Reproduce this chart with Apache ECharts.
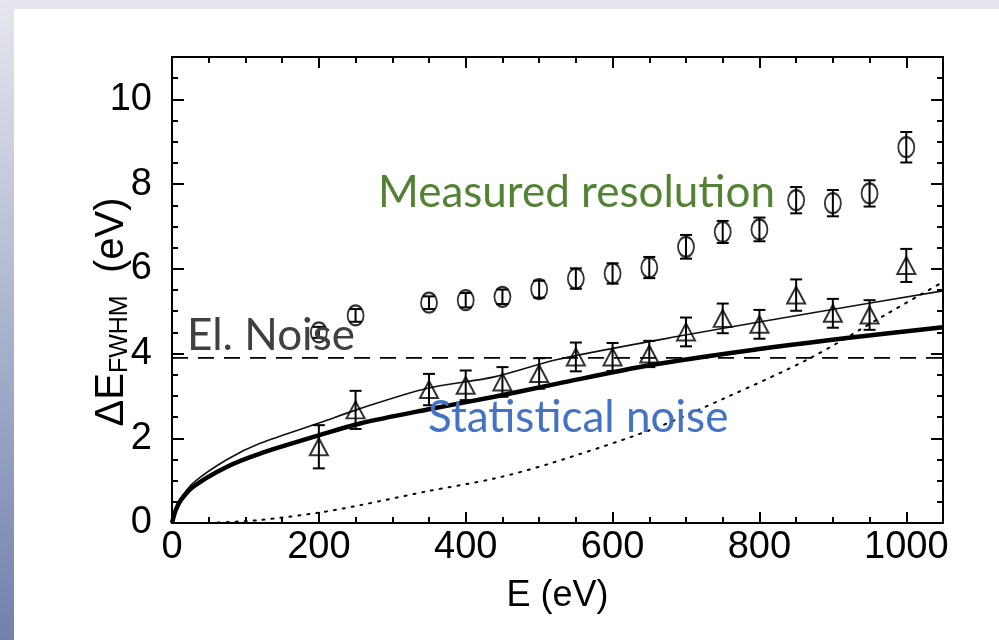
<!DOCTYPE html>
<html>
<head>
<meta charset="utf-8">
<script src="https://cdn.jsdelivr.net/npm/echarts@6/dist/echarts.min.js"></script>
<style>
  html, body { margin: 0; padding: 0; background: #fff; }
  #chart { width: 999px; height: 640px; }
</style>
</head>
<body>
<div id="chart"></div>
<script>
// measured points (eV)
const energy = [200, 250, 350, 400, 450, 500, 550, 600, 650, 700, 750, 800, 850, 900, 950, 1000];
const measured = [4.5, 4.9, 5.2, 5.26, 5.34, 5.52, 5.77, 5.89, 6.03, 6.52, 6.87, 6.93, 7.62, 7.55, 7.78, 8.87];
const measuredErr = [0.13, 0.15, 0.15, 0.17, 0.17, 0.2, 0.24, 0.24, 0.25, 0.28, 0.26, 0.28, 0.31, 0.31, 0.31, 0.36];
const statistical = [1.8, 2.67, 3.15, 3.25, 3.33, 3.53, 3.92, 3.92, 3.99, 4.51, 4.83, 4.69, 5.38, 4.95, 4.91, 6.08];
const statisticalErr = [0.51, 0.45, 0.37, 0.35, 0.35, 0.36, 0.34, 0.33, 0.31, 0.34, 0.35, 0.34, 0.37, 0.34, 0.35, 0.39];

// curves
const statCurveE = [0, 5, 12, 29, 75, 120, 202, 256, 348, 439, 525, 652, 788, 925, 1050];
const statCurveV = [0, 0.3, 0.54, 0.86, 1.33, 1.64, 2.08, 2.35, 2.68, 2.98, 3.29, 3.73, 4.08, 4.38, 4.62];
const totalCurveE = [0, 5, 12, 29, 75, 120, 202, 256, 348, 439, 525, 697, 879, 1050];
const totalCurveV = [0, 0.32, 0.58, 0.95, 1.5, 1.88, 2.37, 2.7, 3.18, 3.45, 3.86, 4.43, 4.98, 5.48];
const dotCurveE = [50, 120, 202, 256, 348, 439, 516, 652, 757, 870, 970, 1050];
const dotCurveV = [0, 0.07, 0.25, 0.42, 0.75, 1.05, 1.41, 2.2, 2.98, 3.9, 4.9, 5.69];
const elNoise = 3.9;

const xTicks = [0, 200, 400, 600, 800, 1000];
const yTicks = [0, 2, 4, 6, 8, 10];

const pairs = (xs, ys) => xs.map((x, i) => [x, ys[i]]);
const FONT = 'Liberation Sans';

function errorBars(values, errs) {
  return {
    type: 'custom',
    data: energy.map((e, i) => [e, values[i] - errs[i], values[i] + errs[i]]),
    encode: { x: 0, y: [1, 2] },
    z: 4,
    renderItem: (params, api) => {
      const lo = api.coord([api.value(0), api.value(1)]);
      const hi = api.coord([api.value(0), api.value(2)]);
      const w = 6;
      const st = { stroke: '#000', lineWidth: 2 };
      return {
        type: 'group',
        children: [
          { type: 'line', shape: { x1: lo[0], y1: lo[1], x2: hi[0], y2: hi[1] }, style: st },
          { type: 'line', shape: { x1: lo[0] - w, y1: lo[1], x2: lo[0] + w, y2: lo[1] }, style: st },
          { type: 'line', shape: { x1: hi[0] - w, y1: hi[1], x2: hi[0] + w, y2: hi[1] }, style: st }
        ]
      };
    }
  };
}

function xAxisOf(pos, major) {
  return {
    type: 'value', position: pos, min: 0, max: 1050,
    interval: major ? 200 : 50,
    axisLine: { show: major, onZero: false, lineStyle: { color: '#000', width: 2 } },
    axisTick: { inside: true, length: major ? 11 : 6, lineStyle: { color: '#000', width: 2 } },
    axisLabel: {
      show: major && pos === 'bottom', margin: 6,
      color: '#000', fontFamily: FONT, fontSize: 38,
      formatter: v => xTicks.includes(v) ? String(v) : ''
    },
    splitLine: { show: false },
    name: major && pos === 'bottom' ? 'E (eV)' : '',
    nameLocation: 'middle', nameGap: 55,
    nameTextStyle: { color: '#000', fontFamily: FONT, fontSize: 36 }
  };
}

function yAxisOf(pos, major) {
  return {
    type: 'value', position: pos, min: 0, max: 11,
    interval: major ? 2 : 0.5,
    axisLine: { show: major, onZero: false, lineStyle: { color: '#000', width: 2 } },
    axisTick: { inside: true, length: major ? 12 : 6, lineStyle: { color: '#000', width: 2 } },
    axisLabel: {
      show: major && pos === 'left', margin: 20,
      color: '#000', fontFamily: FONT, fontSize: 38,
      formatter: v => yTicks.includes(v) ? String(v) : ''
    },
    splitLine: { show: false }
  };
}

const chart = echarts.init(document.getElementById('chart'));
chart.setOption({
  backgroundColor: '#fff',
  animation: false,
  grid: { left: 172, right: 56, top: 57, bottom: 117 },
  xAxis: [xAxisOf('bottom', true), xAxisOf('bottom', false), xAxisOf('top', true), xAxisOf('top', false)],
  yAxis: [yAxisOf('left', true), yAxisOf('left', false), yAxisOf('right', true), yAxisOf('right', false)],
  graphic: [
    { type: 'rect', z: -10, shape: { x: 0, y: 0, width: 999, height: 9 }, style: { fill: '#e6e7ee' } },
    {
      type: 'rect', z: -10, shape: { x: 0, y: 0, width: 14, height: 640 },
      style: {
        fill: new echarts.graphic.LinearGradient(0, 0, 0, 1, [
          { offset: 0, color: '#e6e7ee' },
          { offset: 1, color: '#7181ad' }
        ])
      }
    },
    {
      type: 'text', x: 112, y: 312, rotation: Math.PI / 2, z: 50,
      style: {
        text: '{a|ΔE}{b|FWHM}{a|  (eV)}',
        align: 'center', verticalAlign: 'middle',
        rich: {
          a: { fontFamily: FONT, fontSize: 40, fill: '#000', lineHeight: 42 },
          b: { fontFamily: FONT, fontSize: 25, fill: '#000', verticalAlign: 'bottom', lineHeight: 25 }
        }
      }
    },
    {
      type: 'text', x: 378, y: 193, z: 50,
      style: { text: 'Measured resolution', fontFamily: 'Lato', fontSize: 44, fill: '#548235', verticalAlign: 'middle' }
    },
    {
      type: 'text', x: 187, y: 336, z: 50,
      style: { text: 'El. Noise', fontFamily: 'Lato', fontSize: 44, fill: '#404040', verticalAlign: 'middle' }
    },
    {
      type: 'text', x: 428, y: 418, z: 50,
      style: { text: 'Statistical noise', fontFamily: 'Lato', fontSize: 44, fill: '#4472c4', verticalAlign: 'middle' }
    }
  ],
  series: [
    {
      name: 'El. noise', type: 'line', data: [[0, elNoise], [1050, elNoise]],
      showSymbol: false, silent: true,
      lineStyle: { color: '#000', width: 1.8, type: [16, 10] }
    },
    {
      name: 'Total', type: 'line', data: pairs(totalCurveE, totalCurveV),
      showSymbol: false, smooth: 0.3, silent: true,
      lineStyle: { color: '#111', width: 1.6 }
    },
    {
      name: 'Statistical', type: 'line', data: pairs(statCurveE, statCurveV),
      showSymbol: false, smooth: 0.3, silent: true,
      lineStyle: { color: '#000', width: 4.5 }
    },
    {
      name: 'Dotted', type: 'line', data: pairs(dotCurveE, dotCurveV),
      showSymbol: false, smooth: 0.3, silent: true,
      lineStyle: { color: '#000', width: 2, type: [2, 7], cap: 'round' }
    },
    errorBars(measured, measuredErr),
    errorBars(statistical, statisticalErr),
    {
      name: 'Measured resolution', type: 'scatter', data: pairs(energy, measured),
      symbol: 'circle', symbolSize: [16, 20], z: 5,
      itemStyle: { color: 'rgba(0,0,0,0)', borderColor: '#000', borderWidth: 2 }
    },
    {
      name: 'Statistical noise', type: 'scatter', data: pairs(energy, statistical),
      symbol: 'triangle', symbolSize: [18, 17], z: 5,
      itemStyle: { color: 'rgba(0,0,0,0)', borderColor: '#000', borderWidth: 2 }
    }
  ]
});
</script>
</body>
</html>
